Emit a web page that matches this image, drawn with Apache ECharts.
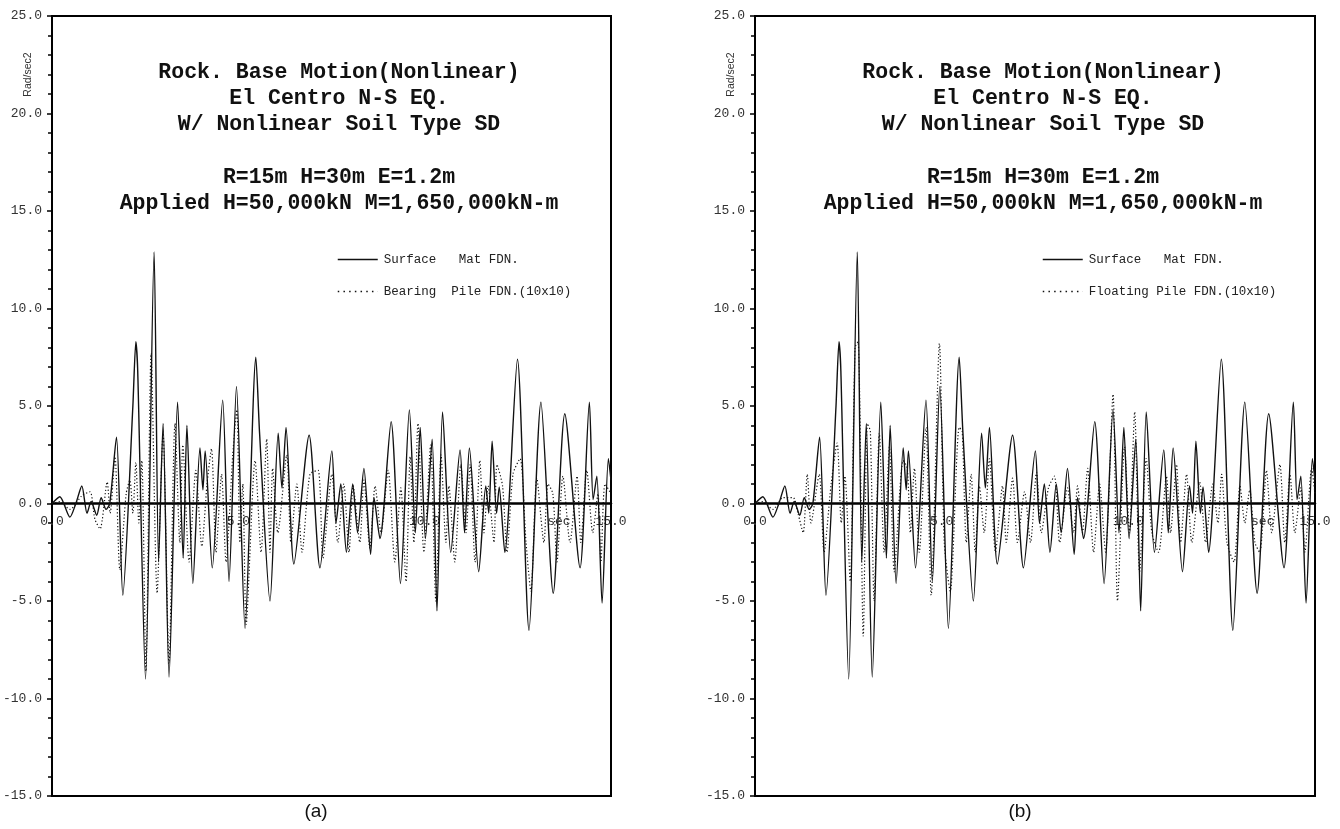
<!DOCTYPE html>
<html>
<head>
<meta charset="utf-8">
<script src="https://cdn.jsdelivr.net/npm/echarts@6/dist/echarts.min.js"></script>
<style>
  html, body { margin: 0; padding: 0; background: #fff; }
  #chart { width: 1340px; height: 829px; }
</style>
</head>
<body>
<div id="chart"></div>
<script>
// ---- Data (time in sec, rotational acceleration in Rad/sec2) ----
const surfaceTime = [0, 0.21, 0.48, 0.64, 0.80, 0.94, 1.05, 1.20, 1.32, 1.45, 1.55, 1.73, 1.90, 2.17, 2.25, 2.30, 2.51, 2.74, 2.86, 2.98,
  3.14, 3.37, 3.52, 3.62, 3.78, 3.97, 4.05, 4.11, 4.30, 4.58, 4.75, 4.95, 5.18, 5.47, 5.57, 5.85, 6.07, 6.17, 6.28, 6.49,
  6.90, 7.19, 7.51, 7.62, 7.75, 7.90, 8.07, 8.20, 8.37, 8.55, 8.64, 8.80, 9.10, 9.35, 9.59, 9.75, 9.88, 10.02, 10.20, 10.33,
  10.48, 10.70, 10.95, 11.07, 11.20, 11.45, 11.64, 11.72, 11.81, 11.93, 12.00, 12.15, 12.49, 12.80, 13.12, 13.45, 13.76, 14.17, 14.42, 14.52,
  14.62, 14.76, 14.93, 15.0];
const surfaceAcc = [0, 0.35, -0.7, 0.0, 0.9, -0.5, 0.1, -0.6, 0.3, -0.3, 0.0, 3.4, -4.7, 5.0, 8.3, 6.8, -9.0, 12.9, -3.0, 4.1,
  -8.9, 5.2, -2.8, 4.0, -4.1, 2.85, 0.7, 2.7, -3.3, 5.3, -4.0, 6.0, -6.4, 7.5, 3.6, -5.0, 3.6, 0.8, 3.9, -3.1,
  3.5, -3.3, 2.7, -1.0, 1.0, -2.5, 1.0, -1.5, 1.8, -2.6, 0.3, -1.8, 4.2, -4.1, 4.8, -1.5, 3.9, -1.8, 3.3, -5.5,
  4.7, -2.5, 2.75, -1.5, 2.85, -3.5, 0.9, -0.5, 3.2, -0.5, 0.85, -2.5, 7.4, -6.5, 5.2, -4.6, 4.6, -3.3, 5.2, 0.2,
  1.4, -5.1, 2.3, 1.2];

const bearingTime = [0, 0.21, 0.48, 0.80, 1.02, 1.15, 1.29, 1.48, 1.56, 1.69, 1.82, 1.99, 2.09, 2.17, 2.25, 2.33, 2.41, 2.52, 2.66, 2.82,
  2.98, 3.14, 3.30, 3.43, 3.51, 3.68, 3.86, 4.02, 4.16, 4.28, 4.40, 4.55, 4.67, 4.85, 4.96, 5.04, 5.12, 5.21, 5.45, 5.61,
  5.76, 5.85, 5.92, 6.06, 6.30, 6.41, 6.57, 6.71, 6.92, 7.14, 7.27, 7.51, 7.67, 7.83, 7.97, 8.08, 8.26, 8.37, 8.53, 8.67,
  8.83, 9.02, 9.20, 9.36, 9.50, 9.61, 9.71, 9.82, 9.98, 10.16, 10.30, 10.44, 10.57, 10.65, 10.81, 10.97, 11.11, 11.22, 11.35, 11.48,
  11.59, 11.70, 11.86, 11.94, 12.09, 12.21, 12.37, 12.56, 12.72, 12.85, 13.01, 13.20, 13.31, 13.44, 13.55, 13.71, 13.90, 14.09, 14.19, 14.35,
  14.51, 14.65, 14.73, 14.84, 15.0];
const bearingAcc = [0, 0.1, -0.3, 0.4, 0.6, -0.8, -1.3, 1.1, -0.5, 2.4, -3.4, 0.5, 1.2, -0.5, 2.1, -1.0, 2.2, -8.6, 7.7, -4.6,
  3.6, -8.2, 4.1, -2.0, 3.0, -3.0, 1.7, -2.2, 1.0, 2.8, -2.5, 1.5, -3.0, 2.5, 4.8, -2.0, 1.0, -6.2, 2.2, -2.5,
  3.3, -2.5, 1.8, -1.5, 2.5, -2.0, 1.0, -2.5, 1.5, 1.7, -2.8, 1.5, -2.0, 1.0, -2.5, 0.9, -2.0, 1.2, -2.3, 0.9,
  -1.5, 1.7, -3.0, 0.8, -4.0, 2.4, -2.0, 4.1, -2.5, 3.0, -5.0, 2.5, -2.0, 0.9, -3.0, 2.0, -1.5, 2.0, -3.0, 2.2,
  -1.5, 0.9, -2.0, 2.0, 0.9, -2.5, 1.5, 2.3, -2.0, -4.5, 1.3, -2.0, 1.0, 0.5, -3.0, 1.4, -2.0, 1.4, -2.0, 1.7,
  -1.5, 0.5, -3.0, 1.0, 0.5];

const floatingTime = [0, 0.21, 0.48, 0.75, 1.02, 1.15, 1.29, 1.40, 1.50, 1.72, 1.85, 2.04, 2.20, 2.31, 2.41, 2.55, 2.68, 2.76, 2.90, 3.01,
  3.09, 3.19, 3.33, 3.46, 3.60, 3.73, 3.97, 4.08, 4.16, 4.27, 4.40, 4.58, 4.72, 4.94, 5.07, 5.23, 5.47, 5.55, 5.66, 5.79,
  5.90, 6.01, 6.14, 6.28, 6.44, 6.63, 6.73, 6.90, 7.03, 7.22, 7.38, 7.54, 7.67, 7.86, 8.02, 8.16, 8.37, 8.53, 8.64, 8.77,
  8.91, 9.07, 9.23, 9.39, 9.59, 9.71, 9.90, 10.03, 10.17, 10.30, 10.48, 10.63, 10.81, 11.02, 11.13, 11.29, 11.40, 11.56, 11.70, 11.91,
  12.07, 12.26, 12.40, 12.50, 12.64, 12.83, 12.99, 13.12, 13.25, 13.39, 13.52, 13.70, 13.84, 14.06, 14.19, 14.33, 14.46, 14.62, 14.73, 14.91,
  15.0];
const floatingAcc = [0, 0.1, -0.3, 0.3, 0.3, -0.5, -1.5, 1.5, -1.0, 1.5, -2.5, 1.0, 3.1, -1.0, 1.4, -4.0, 8.0, 8.3, -6.8, 4.1,
  3.7, -5.0, 3.6, -2.5, 2.9, -3.5, 2.2, 1.8, -1.5, 1.8, -2.5, 3.9, -4.7, 8.2, -2.0, -4.5, 3.9, 3.7, -2.0, 1.5,
  -2.5, 0.9, -1.5, 2.3, -2.5, 0.9, -2.0, 1.3, -2.0, 0.6, -2.0, 1.6, -1.5, 0.8, 1.4, -2.0, 0.8, -1.5, 0.9, -1.5,
  1.8, -2.5, 1.0, -2.5, 5.6, -5.0, 2.9, -1.5, 4.7, -3.5, 2.3, -1.5, -2.5, 1.4, -1.5, 2.0, -2.0, 1.5, -2.0, 1.1,
  -2.0, 1.0, -1.0, 1.5, -2.0, -3.0, 0.9, -1.0, 0.7, -2.0, -2.5, 1.7, -1.5, 2.0, -2.0, 1.5, -1.5, 0.8, -2.5, 1.8,
  0.5];

const yTicks = { min: -15, max: 25, step: 5 };
const xTicks = { min: 0, max: 15, step: 5 };
const legendNames = ['Surface   Mat FDN.', 'Bearing  Pile FDN.(10x10)', 'Floating Pile FDN.(10x10)'];
const titleLines = ['Rock. Base Motion(Nonlinear)', 'El Centro N-S EQ.', 'W/ Nonlinear Soil Type SD', '',
  'R=15m H=30m E=1.2m', 'Applied H=50,000kN M=1,650,000kN-m'];
const panelCaptions = ['(a)', '(b)'];
const yUnit = 'Rad/sec2';
const xUnit = 'sec';

// ---- Build chart ----
const pairs = (t, v) => t.map((x, i) => [x, v[i]]);
const mono = 'Liberation Mono';
const grids = [
  { left: 52, top: 16, width: 559, height: 780 },
  { left: 755, top: 16, width: 560, height: 780 }
];
// x axis sits on the zero line: shift it up from the grid bottom by the zero's share of the height
const zeroShift = g => -g.height * (0 - yTicks.min) / (yTicks.max - yTicks.min);

function xAxisFor(i) {
  return {
    type: 'value', gridIndex: i, min: xTicks.min, max: xTicks.max, interval: xTicks.step,
    position: 'bottom', offset: zeroShift(grids[i]),
    axisLine: { onZero: false, lineStyle: { color: '#000', width: 2.5 } },
    axisTick: { show: false },
    splitLine: { show: false },
    axisLabel: { formatter: v => v.toFixed(1), fontFamily: mono, fontSize: 13, color: '#333', margin: 12 }
  };
}
function yAxisFor(i) {
  return {
    type: 'value', gridIndex: i, min: yTicks.min, max: yTicks.max, interval: yTicks.step,
    axisLine: { show: true, onZero: false, lineStyle: { color: '#000', width: 2 } },
    axisTick: { show: true, inside: false, length: 5, lineStyle: { color: '#000', width: 1.5 } },
    minorTick: { show: true, splitNumber: 5, length: 4, lineStyle: { color: '#000', width: 1.5 } },
    splitLine: { show: false },
    minorSplitLine: { show: false },
    axisLabel: { formatter: v => v.toFixed(1), fontFamily: mono, fontSize: 13, color: '#333', margin: 10 }
  };
}
const solidStyle = { color: '#111', width: 1.4, type: 'solid' };
const dotStyle = { color: '#111', width: 1.2, type: [1.2, 2.2] };
function lineSeries(name, data, idx, style) {
  return {
    type: 'line', name: name, xAxisIndex: idx, yAxisIndex: idx, data: data,
    showSymbol: false, symbol: 'none', smooth: 0.25, lineStyle: style, itemStyle: { color: '#111' },
    emphasis: { disabled: true }, z: style.type === 'solid' ? 3 : 2
  };
}
function legendFor(left, names) {
  return {
    orient: 'vertical', left: left, top: 248, itemWidth: 40, itemHeight: 14, itemGap: 19,
    data: [
      { name: names[0], lineStyle: { color: '#111', width: 1.4, type: 'solid' } },
      { name: names[1], lineStyle: { color: '#111', width: 1.5, type: [1.5, 4.2] } }
    ],
    selectedMode: false,
    itemStyle: { opacity: 0, borderWidth: 0 },
    textStyle: { fontFamily: mono, fontSize: 12.5, color: '#222', padding: [0, 0, 0, 1] }
  };
}
const titleStyle = { fontFamily: mono, fontWeight: 'bold', fontSize: 21.5, lineHeight: 26.3, color: '#111' };

const chart = echarts.init(document.getElementById('chart'), null, { renderer: 'canvas' });
chart.setOption({
  animation: false,
  backgroundColor: '#fff',
  title: [
    { text: titleLines.join('\n'), left: 339, top: 59, textAlign: 'center', padding: 0, textStyle: titleStyle },
    { text: titleLines.join('\n'), left: 1043, top: 59, textAlign: 'center', padding: 0, textStyle: titleStyle },
    { text: panelCaptions[0], left: 316, top: 802, textAlign: 'center', padding: 0,
      textStyle: { fontFamily: 'Liberation Sans', fontWeight: 'normal', fontSize: 19, color: '#111' } },
    { text: panelCaptions[1], left: 1020, top: 802, textAlign: 'center', padding: 0,
      textStyle: { fontFamily: 'Liberation Sans', fontWeight: 'normal', fontSize: 19, color: '#111' } }
  ],
  legend: [
    legendFor(332, [legendNames[0], legendNames[1]]),
    legendFor(1037, [legendNames[0], legendNames[2]])
  ],
  grid: grids.map(g => Object.assign({ show: true, borderColor: '#000', borderWidth: 2, backgroundColor: 'transparent' }, g)),
  xAxis: [xAxisFor(0), xAxisFor(1)],
  yAxis: [yAxisFor(0), yAxisFor(1)],
  series: [
    lineSeries(legendNames[0], pairs(surfaceTime, surfaceAcc), 0, solidStyle),
    lineSeries(legendNames[1], pairs(bearingTime, bearingAcc), 0, dotStyle),
    lineSeries(legendNames[0], pairs(surfaceTime, surfaceAcc), 1, solidStyle),
    lineSeries(legendNames[2], pairs(floatingTime, floatingAcc), 1, dotStyle)
  ]
});

// Axis unit labels placed relative to the axes
const gfx = [];
[0, 1].forEach(i => {
  const secPos = chart.convertToPixel({ xAxisIndex: i, yAxisIndex: i }, [13.6, 0]);
  gfx.push({ type: 'text', x: secPos[0], y: secPos[1] + 12,
    style: { text: xUnit, font: '13px "Liberation Mono"', fill: '#333', align: 'center', verticalAlign: 'top' }, z: 10 });
  const topPos = chart.convertToPixel({ xAxisIndex: i, yAxisIndex: i }, [0, 22]);
  gfx.push({ type: 'text', x: topPos[0] - 24, y: topPos[1], rotation: Math.PI / 2,
    style: { text: yUnit, font: '10.5px "Liberation Sans"', fill: '#333', align: 'center', verticalAlign: 'middle' }, z: 10 });
});
chart.setOption({ graphic: gfx });
</script>
</body>
</html>
